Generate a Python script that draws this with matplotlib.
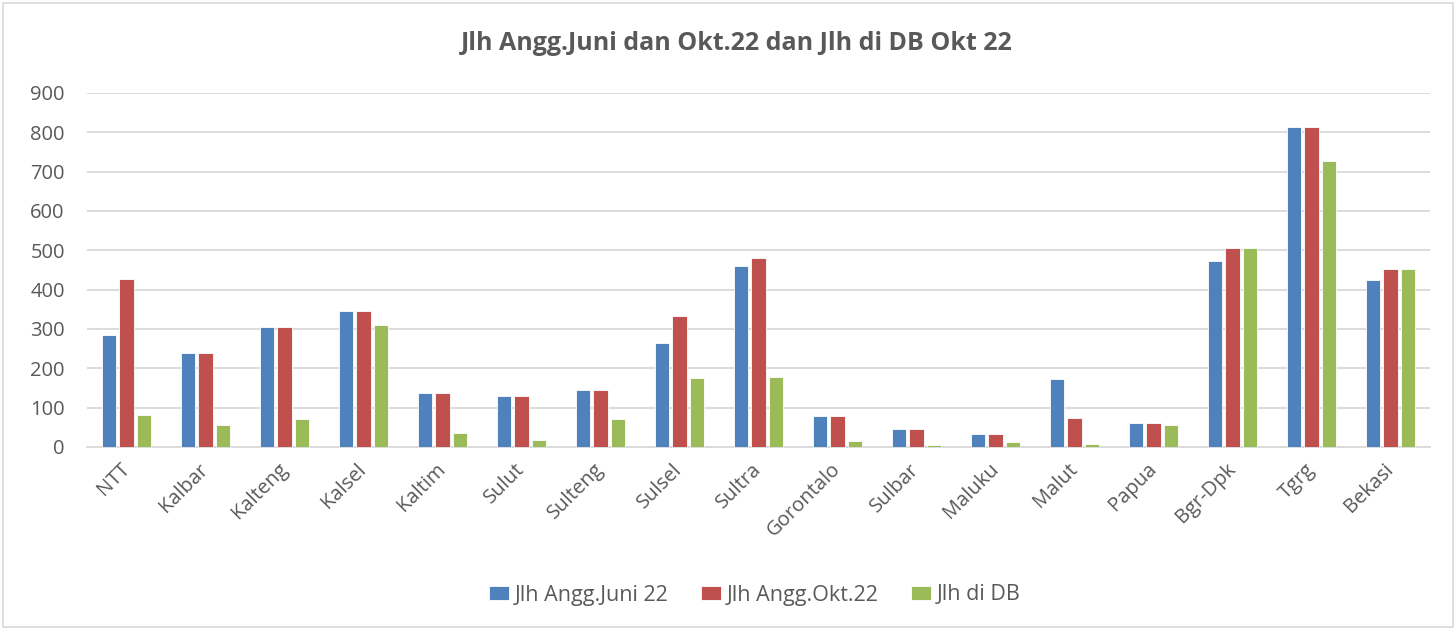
import matplotlib
matplotlib.use("Agg")
import matplotlib.pyplot as plt
import numpy as np
from matplotlib.patches import Rectangle

categories = ["NTT", "Kalbar", "Kalteng", "Kalsel", "Kaltim", "Sulut", "Sulteng", "Sulsel",
              "Sultra", "Gorontalo", "Sulbar", "Maluku", "Malut", "Papua", "Bgr-Dpk", "Tgrg", "Bekasi"]
juni22 = [285, 239, 305, 346, 138, 130, 144, 265, 460, 79, 47, 34, 174, 61, 473, 813, 424]
okt22 = [428, 239, 305, 346, 138, 130, 144, 332, 480, 79, 47, 34, 74, 61, 505, 813, 453]
di_db = [82, 57, 70, 310, 36, 18, 70, 175, 178, 14, 5, 12, 7, 56, 505, 726, 453]
series_names = ["Jlh Angg.Juni 22", "Jlh Angg.Okt.22", "Jlh di DB"]
colors = ["#4F81BD", "#C0504D", "#9BBB59"]
yticks = [0, 100, 200, 300, 400, 500, 600, 700, 800, 900]

plt.rcParams['font.family'] = ['Open Sans', 'DejaVu Sans']

fig = plt.figure(figsize=(14.56, 6.28), dpi=100)
fig.patches.append(Rectangle((0.002, 0.002), 0.996, 0.993, transform=fig.transFigure,
                             fill=False, edgecolor="#D9D9D9", linewidth=1.2))
ax = fig.add_axes([87/1456, 1-447/628, (1430-87)/1456, (447-93)/628])

x = np.arange(len(categories))
w = 0.18
off = 0.22
for i, (vals, name, c) in enumerate(zip([juni22, okt22, di_db], series_names, colors)):
    ax.bar(x + (i-1)*off, vals, width=w, color=c, edgecolor="white", linewidth=0.6, label=name, zorder=3)

ax.set_xlim(-0.5, len(categories)-0.5)
ax.set_ylim(0, 900)
ax.set_yticks(yticks)
ax.yaxis.grid(True, color="#D9D9D9", linewidth=1.3, zorder=0)
ax.set_axisbelow(True)
for s in ["top", "right", "left"]:
    ax.spines[s].set_visible(False)
ax.spines["bottom"].set_color("#D9D9D9")
ax.spines["bottom"].set_linewidth(1.3)
ax.tick_params(axis="both", length=0, labelsize=14.5, colors="#595959")
ax.tick_params(axis="y", pad=16)
ax.set_xticks(x)
ax.set_xticklabels(categories, rotation=45, ha="right", va="center", rotation_mode="anchor")
ax.tick_params(axis="x", pad=14)

fig.text(0.506, 1-44/628, "Jlh Angg.Juni dan Okt.22 dan Jlh di DB Okt 22", ha="center", va="center",
         fontsize=18, fontweight="bold", color="#595959")

leg = fig.legend(loc="center", bbox_to_anchor=(755/1456, 1-595/628), ncol=3, frameon=False,
                 fontsize=15.5, handlelength=0.9, handleheight=0.65, columnspacing=1.5, handletextpad=0.3)
for t in leg.get_texts():
    t.set_color("#595959")

fig.savefig("out.png", dpi=100)
